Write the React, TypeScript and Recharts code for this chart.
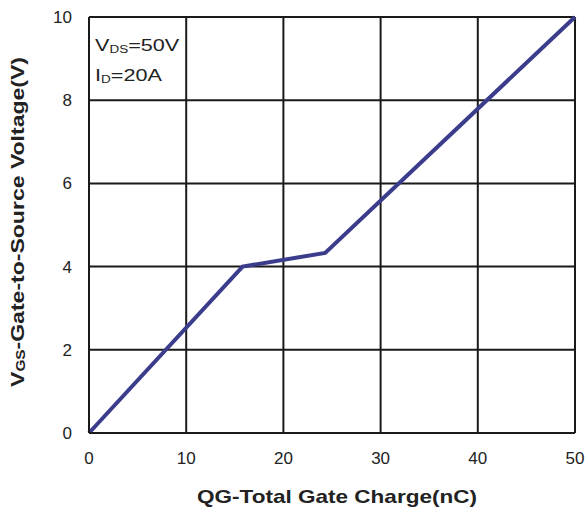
import React from "react";
import {
  LineChart,
  Line,
  XAxis,
  YAxis,
  CartesianGrid,
} from "recharts";

const gateCharge = [0, 15.8, 24.3, 50];
const gateVoltage = [0, 4.0, 4.33, 10];
const xTicks = [0, 10, 20, 30, 40, 50];
const yTicks = [0, 2, 4, 6, 8, 10];

const data = gateCharge.map((q, i) => ({ q, v: gateVoltage[i] }));

const FONT = "'Liberation Sans', Arial, sans-serif";

function YLabel() {
  const cy = 222;
  const x = 18;
  return (
    <text
      x={x}
      y={cy}
      transform={`rotate(-90, ${x}, ${cy})`}
      textAnchor="middle"
      dominantBaseline="central"
      fontFamily={FONT}
      fontWeight="bold"
      fontSize={18}
      fill="#222"
      textLength={330}
      lengthAdjust="spacingAndGlyphs"
    >
      V<tspan fontSize={12} dy={3}>GS</tspan>
      <tspan dy={-3}>-Gate-to-Source Voltage(V)</tspan>
    </text>
  );
}

function XLabel() {
  return (
    <text
      x={337}
      y={503}
      textAnchor="middle"
      fontFamily={FONT}
      fontWeight="bold"
      fontSize={19}
      fill="#222"
      textLength={280}
      lengthAdjust="spacingAndGlyphs"
    >
      QG-Total Gate Charge(nC)
    </text>
  );
}

export default function App() {
  return (
    <div
      style={{
        position: "absolute",
        left: 0,
        top: 0,
        width: 587,
        height: 512,
        fontFamily: FONT,
        background: "#fff",
      }}
    >
      <LineChart
        width={587}
        height={512}
        data={data}
        margin={{ top: 17, right: 12, left: 29, bottom: 39 }}
      >
        <CartesianGrid stroke="#1a1a1a" strokeWidth={2} />
        <XAxis
          dataKey="q"
          type="number"
          domain={[0, 50]}
          ticks={xTicks}
          tickLine={false}
          axisLine={{ stroke: "#1a1a1a", strokeWidth: 2 }}
          tick={{ fill: "#222", fontSize: 17, fontFamily: FONT }}
          tickMargin={13}
          height={40}
          label={<XLabel />}
        />
        <YAxis
          type="number"
          domain={[0, 10]}
          ticks={yTicks}
          tickLine={false}
          axisLine={{ stroke: "#1a1a1a", strokeWidth: 2 }}
          tick={{ fill: "#222", fontSize: 17, fontFamily: FONT }}
          tickMargin={11}
          width={60}
          label={<YLabel />}
        />
        <Line
          dataKey="v"
          stroke="#3b3d8c"
          strokeWidth={4}
          dot={false}
          isAnimationActive={false}
        />
      </LineChart>
      <div
        style={{
          position: "absolute",
          left: 95,
          top: 33,
          fontSize: 16,
          lineHeight: "26px",
          color: "#222",
          transform: "scaleX(1.35)",
          transformOrigin: "left top",
        }}
      >
        <div>
          V<sub style={{ fontSize: 10, verticalAlign: "-2px" }}>DS</sub>=50V
        </div>
        <div>
          I<sub style={{ fontSize: 10, verticalAlign: "-2px" }}>D</sub>=20A
        </div>
      </div>
    </div>
  );
}
